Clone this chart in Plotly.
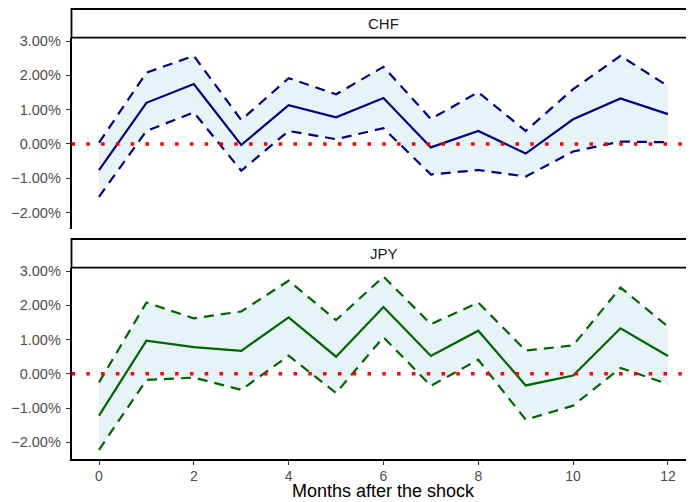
import plotly.graph_objects as go

months = list(range(13))

chf_mean = [-0.76, 1.20, 1.75, -0.03, 1.13, 0.78, 1.34, -0.10, 0.38, -0.28, 0.72, 1.33, 0.87]
chf_upper = [0.04, 2.08, 2.57, 0.70, 1.92, 1.45, 2.25, 0.73, 1.51, 0.38, 1.60, 2.57, 1.69]
chf_lower = [-1.54, 0.38, 0.92, -0.78, 0.38, 0.14, 0.46, -0.89, -0.76, -0.95, -0.22, 0.07, 0.05]

jpy_mean = [-1.22, 0.97, 0.78, 0.67, 1.65, 0.50, 1.95, 0.52, 1.26, -0.34, -0.05, 1.33, 0.52]
jpy_upper = [-0.25, 2.08, 1.62, 1.82, 2.72, 1.57, 2.84, 1.45, 2.08, 0.68, 0.83, 2.52, 1.38]
jpy_lower = [-2.22, -0.18, -0.11, -0.47, 0.53, -0.56, 1.07, -0.35, 0.41, -1.34, -0.93, 0.17, -0.30]

panels = ["CHF", "JPY"]
y_tick_vals = [-2, -1, 0, 1, 2, 3]
y_tick_text = ["\u22122.00%", "\u22121.00%", "0.00%", "1.00%", "2.00%", "3.00%"]
x_tick_vals = [0, 2, 4, 6, 8, 10, 12]
x_title = "Months after the shock"

# the page body has an 8px margin; lay out in figure pixels = screen pixels - 8
OFF = 8
W, H = 694 - OFF, 502 - OFF
FONT = "Liberation Sans"
ribbon = "rgb(230,243,247)"
colors = {"CHF": "#000080", "JPY": "#006400"}

data = {
    "CHF": (chf_mean, chf_upper, chf_lower),
    "JPY": (jpy_mean, jpy_upper, jpy_lower),
}

# screen pixel layout (from top-left of window)
left_px = 71.5
panel_px = {"CHF": (37.7, 229.0), "JPY": (267.7, 458.7)}
strip_px = {"CHF": (9.0, 37.7), "JPY": (239.0, 267.7)}

def px(p):
    return (p - OFF) / W

def py(p):
    return (H - (p - OFF)) / H

fig = go.Figure()
axes = {"CHF": ("x", "y"), "JPY": ("x2", "y2")}

for name in panels:
    mean, upper, lower = data[name]
    xa, ya = axes[name]
    col = colors[name]
    fig.add_trace(go.Scatter(
        x=months + months[::-1], y=upper + lower[::-1], fill="toself",
        fillcolor=ribbon, line=dict(width=0), mode="lines",
        hoverinfo="skip", showlegend=False, xaxis=xa, yaxis=ya))
    for band in (upper, lower):
        fig.add_trace(go.Scatter(
            x=months, y=band, mode="lines",
            line=dict(color=col, width=2.2, dash="10px,7px"),
            showlegend=False, xaxis=xa, yaxis=ya))
    fig.add_trace(go.Scatter(
        x=months, y=mean, mode="lines",
        line=dict(color=col, width=2.2),
        showlegend=False, xaxis=xa, yaxis=ya))

xdom = [px(left_px), 1.0]
xrange = [-0.58, 12.55]
yrange = [-2.48, 3.10]

common_y = dict(
    range=yrange, tickvals=y_tick_vals, ticktext=y_tick_text, automargin=False,
    showgrid=False, zeroline=False, showline=True, linecolor="black",
    linewidth=1.6, ticks="outside", ticklen=4, tickwidth=1.2, tickcolor="#333333",
    tickfont=dict(family=FONT, size=14.5, color="#4D4D4D"), ticklabelstandoff=2,
)

fig.update_layout(
    width=W, height=H, autosize=False,
    margin=dict(l=0, r=0, t=0, b=0),
    paper_bgcolor="white", plot_bgcolor="white",
    showlegend=False,
    xaxis=dict(domain=xdom, range=xrange, anchor="y", showgrid=False, zeroline=False,
               automargin=False, showline=False, showticklabels=False, ticks=""),
    yaxis=dict(domain=[py(panel_px["CHF"][1]), py(panel_px["CHF"][0])], anchor="x", **common_y),
    xaxis2=dict(domain=xdom, range=xrange, anchor="y2", showgrid=False, zeroline=False,
                automargin=False,
                showline=True, linecolor="black", linewidth=1.6,
                tickvals=x_tick_vals, ticks="outside", ticklen=4, tickwidth=1.2,
                tickcolor="#333333",
                tickfont=dict(family=FONT, size=14, color="#4D4D4D")),
    yaxis2=dict(domain=[py(panel_px["JPY"][1]), py(panel_px["JPY"][0])], anchor="x2", **common_y),
)

shapes = []
annotations = []
for name in panels:
    xa, ya = axes[name]
    # zero reference line
    shapes.append(dict(type="line", xref=f"{xa} domain", x0=0, x1=1, yref=ya, y0=0, y1=0,
                       line=dict(color="red", width=3.5, dash="3.5px,11.3px"), layer="above"))
    s0, s1 = strip_px[name]
    shapes.append(dict(type="rect", xref="paper", yref="paper",
                       x0=px(left_px), x1=1.02, y0=py(s1), y1=py(s0),
                       fillcolor="white", line=dict(color="black", width=1.8), layer="above"))
    annotations.append(dict(text=name, xref="paper", yref="paper",
                            x=px((left_px + 696) / 2), y=py((s0 + s1) / 2),
                            showarrow=False, xanchor="center", yanchor="middle",
                            font=dict(family=FONT, size=15, color="#1A1A1A")))

annotations.append(dict(text=x_title, xref="paper", yref="paper",
                        x=px((left_px + 696) / 2), y=0,
                        showarrow=False, xanchor="center", yanchor="bottom",
                        borderpad=0,
                        font=dict(family=FONT, size=18, color="black")))

fig.update_layout(shapes=shapes, annotations=annotations)

fig.write_html("out.html")
